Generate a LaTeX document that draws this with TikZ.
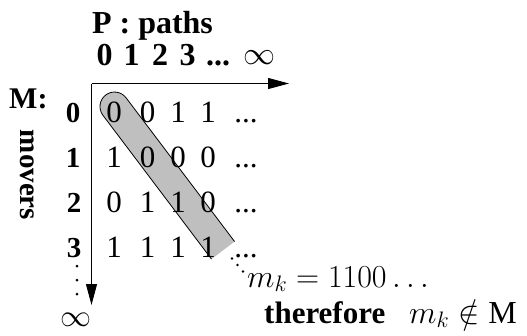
\documentclass[tikz,border=0pt]{standalone}
\usepackage{fix-cm}
\usepackage{fontspec}
\setmainfont{Liberation Serif}
\usetikzlibrary{arrows.meta,calc}

\tikzset{
  hdr/.style={font=\fontsize{29}{32}\selectfont\bfseries, inner sep=0pt, anchor=base},
  colhdr/.style={font=\fontsize{32}{36}\selectfont\bfseries, inner sep=0pt, anchor=base},
  cell/.style={font=\fontsize{31}{34}\selectfont, inner sep=0pt, anchor=base},
  mth/.style={font=\fontsize{32}{36}\selectfont, inner sep=0pt, anchor=base west},
  infsym/.style={font=\fontsize{31}{34}\selectfont, inner sep=0pt},
  axis/.style={line width=0.9pt, -{Triangle[length=21pt,width=11pt]}},
  dotmark/.style={fill=black, draw=none},
  band/.style={fill=black!25, draw=none},
  bandedge/.style={draw=black, line width=0.8pt},
}

\begin{document}
\begin{tikzpicture}[x=1pt, y=-1pt]
  \useasboundingbox (0,0) rectangle (527,335);

  % highlighted diagonal band: round cap at the top, square cut at the bottom
  \def\bw{14.5}
  \coordinate (bt) at (114.5,106.5);
  \coordinate (bb) at ($(bt)+(0.603*180,0.799*180)$);
  \coordinate (btl) at ($(bt)+(-0.799*\bw,0.603*\bw)$);
  \coordinate (bbl) at ($(bb)+(-0.799*\bw,0.603*\bw)$);
  \coordinate (bbr) at ($(bb)+(0.799*\bw,-0.603*\bw)$);
  \fill[band] (bbl) -- (btl) arc[start angle=143.06, delta angle=180, radius=\bw] -- (bbr) -- cycle;
  \draw[bandedge] (bbl) -- (btl) arc[start angle=143.06, delta angle=180, radius=\bw] -- (bbr);

  % axes
  \coordinate (o) at (91.5,83.5);
  \coordinate (px) at (289,83.5);
  \coordinate (my) at (91.5,305);
  \draw[axis] (o) -- (px);
  \draw[axis] (o) -- (my);

  % titles
  \node[colhdr] (ptitle) at (152.5,33) {P : paths};
  \node[hdr, font=\fontsize{30}{32}\selectfont\bfseries, anchor=base west] (mtitle) at (9,108) {M:};
  \node[hdr, rotate=-90, anchor=center] (movers) at (27.5,175) {movers};

  % column headings
  \node[colhdr] (c0) at (104.5,65) {0};
  \node[colhdr] (c1) at (131.5,65) {1};
  \node[colhdr] (c2) at (160,65) {2};
  \node[colhdr] (c3) at (187.5,65) {3};
  \node[colhdr] (cd) at (218,65) {...};
  \node[infsym, font=\fontsize{32}{36}\selectfont] (cinf) at (259,57.5) {$\infty$};

  % row headings
  \node[hdr] (r0) at (73,122) {0};
  \node[hdr] (r1) at (73,167) {1};
  \node[hdr] (r2) at (74,212) {2};
  \node[hdr] (r3) at (74,257) {3};
  \fill[dotmark] (77,266) circle (1.5);
  \fill[dotmark] (77,280) circle (1.5);
  \fill[dotmark] (77,294) circle (1.5);
  \node[infsym] (rinf) at (76,320) {$\infty$};

  % table entries
  \foreach \r/\y/\a/\b/\c/\d in {0/122/0/0/1/1, 1/167/1/0/0/0, 2/212/0/1/1/0, 3/257/1/1/1/1}{
    \node[cell] (e\r0) at (114,\y) {\a};
    \node[cell] (e\r1) at (147.5,\y) {\b};
    \node[cell] (e\r2) at (178,\y) {\c};
    \node[cell] (e\r3) at (208,\y) {\d};
    \node[cell] (e\r4) at (246,\y) {...};
  }

  % diagonal continuation
  \fill[dotmark] (232,258.5) circle (1.3);
  \fill[dotmark] (237.5,265) circle (1.3);
  \fill[dotmark] (243,271.5) circle (1.3);

  % conclusion
  \node[mth] (mk) at (247,287) {$m_k = 1100\ldots$};
  \node[hdr, anchor=base west, font=\fontsize{31}{34}\selectfont\bfseries] (therefore) at (264,323) {therefore};
  \node[mth] (notin) at (409,323) {$m_k \notin \textrm{M}$};
\end{tikzpicture}
\end{document}
